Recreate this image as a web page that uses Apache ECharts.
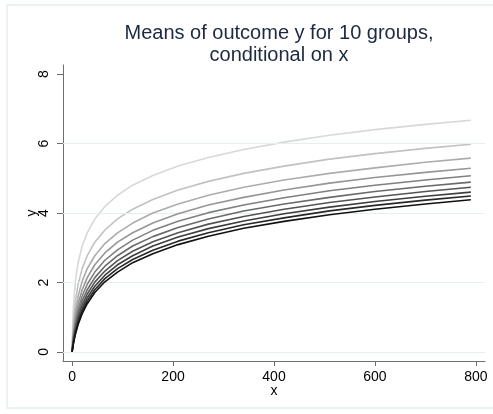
<!DOCTYPE html>
<html>
<head>
<meta charset="utf-8">
<script src="https://cdn.jsdelivr.net/npm/echarts@6/dist/echarts.min.js"></script>
<style>
html,body{margin:0;padding:0;background:#fff;}
#chart{width:493px;height:414px;}
</style>
</head>
<body>
<div id="chart"></div>
<script>
// x positions where values were read
var xValues = [0, 1, 2, 4, 7, 12, 20, 30, 45, 65, 90, 120, 160, 210, 270, 340, 420, 510, 600, 700, 790];
// means of y for the 10 groups (top/lightest to bottom/darkest)
var group1  = [0, 0.69, 1.10, 1.61, 2.08, 2.57, 3.05, 3.43, 3.83, 4.19, 4.51, 4.80, 5.08, 5.35, 5.60, 5.83, 6.04, 6.24, 6.40, 6.55, 6.67];
var group2  = [0, 0.41, 0.69, 1.10, 1.50, 1.95, 2.40, 2.77, 3.16, 3.51, 3.83, 4.11, 4.39, 4.66, 4.91, 5.14, 5.35, 5.55, 5.71, 5.86, 5.98];
var group3  = [0, 0.29, 0.51, 0.85, 1.20, 1.61, 2.04, 2.40, 2.77, 3.12, 3.43, 3.71, 4.00, 4.26, 4.51, 4.74, 4.95, 5.14, 5.30, 5.46, 5.58];
var group4  = [0, 0.22, 0.41, 0.69, 1.01, 1.39, 1.79, 2.14, 2.51, 2.85, 3.16, 3.43, 3.71, 3.98, 4.23, 4.45, 4.66, 4.86, 5.02, 5.17, 5.29];
var group5  = [0, 0.18, 0.34, 0.59, 0.88, 1.22, 1.61, 1.95, 2.30, 2.64, 2.94, 3.22, 3.50, 3.76, 4.01, 4.23, 4.44, 4.64, 4.80, 4.95, 5.07];
var group6  = [0, 0.15, 0.29, 0.51, 0.77, 1.10, 1.47, 1.79, 2.14, 2.47, 2.77, 3.05, 3.32, 3.58, 3.83, 4.06, 4.26, 4.45, 4.62, 4.77, 4.89];
var group7  = [0, 0.13, 0.25, 0.45, 0.69, 1.00, 1.35, 1.67, 2.01, 2.33, 2.63, 2.90, 3.17, 3.43, 3.68, 3.90, 4.11, 4.30, 4.46, 4.62, 4.74];
var group8  = [0, 0.12, 0.22, 0.41, 0.63, 0.92, 1.25, 1.56, 1.89, 2.21, 2.51, 2.77, 3.05, 3.31, 3.55, 3.77, 3.98, 4.17, 4.33, 4.48, 4.60];
var group9  = [0, 0.11, 0.20, 0.37, 0.58, 0.85, 1.17, 1.47, 1.79, 2.11, 2.40, 2.66, 2.93, 3.19, 3.43, 3.66, 3.86, 4.06, 4.22, 4.37, 4.49];
var group10 = [0, 0.10, 0.18, 0.34, 0.53, 0.79, 1.10, 1.39, 1.71, 2.02, 2.30, 2.57, 2.83, 3.09, 3.33, 3.56, 3.76, 3.95, 4.11, 4.26, 4.38];
var groups = [group1, group2, group3, group4, group5, group6, group7, group8, group9, group10];

var xTicks = [0, 200, 400, 600, 800];
var yTicks = [0, 2, 4, 6, 8];
var yGridValues = [0, 2, 4, 6];
var titleText = 'Means of outcome y for 10 groups,\nconditional on x';

var lineColors = ['#d8d8d8','#c2c2c2','#acacac','#969696','#808080','#6a6a6a','#545454','#3e3e3e','#282828','#111111'];

var series = groups.map(function (g, i) {
  return {
    type: 'line',
    data: xValues.map(function (x, j) { return [x, g[j]]; }),
    smooth: false,
    showSymbol: false,
    symbol: 'none',
    z: 3 + i,
    lineStyle: { color: lineColors[i], width: 1.6, join: 'round' },
    silent: true
  };
});
series.push({
  type: 'line',
  data: [],
  silent: true,
  z: 1,
  markLine: {
    silent: true,
    symbol: 'none',
    label: { show: false },
    lineStyle: { color: '#e6eff0', width: 1, type: 'solid' },
    data: yGridValues.map(function (v) { return { yAxis: v }; })
  }
});

var chart = echarts.init(document.getElementById('chart'), null, { renderer: 'canvas' });
chart.setOption({
  animation: false,
  backgroundColor: '#ffffff',
  graphic: [{
    type: 'rect',
    shape: { x: 7, y: 5, width: 490, height: 403 },
    style: { fill: 'none', stroke: '#eaf2f3', lineWidth: 2 },
    silent: true, z: -1
  }],
  title: {
    text: titleText,
    left: 274,
    top: 17,
    textAlign: 'center',
    textStyle: {
      fontFamily: 'Liberation Sans, Arial, sans-serif',
      fontSize: 20,
      fontWeight: 'normal',
      color: '#1c2940',
      lineHeight: 22
    }
  },
  grid: { left: 63, right: 8, top: 65, bottom: 53, containLabel: false },
  xAxis: {
    type: 'value',
    min: -18, max: 818,
    name: 'x',
    nameLocation: 'middle',
    nameGap: 23,
    nameMoveOverlap: false,
    nameTextStyle: { fontFamily: 'Liberation Sans, Arial, sans-serif', fontSize: 14, color: '#000' },
    axisLine: { show: true, onZero: false, lineStyle: { color: '#6e6e6e', width: 1 } },
    axisTick: { show: true, length: 5, customValues: xTicks, lineStyle: { color: '#6e6e6e' } },
    axisLabel: { customValues: xTicks, margin: 9, fontFamily: 'Liberation Sans, Arial, sans-serif', fontSize: 14, color: '#000' },
    splitLine: { show: false }
  },
  yAxis: {
    type: 'value',
    min: -0.26, max: 8.26,
    name: 'y',
    nameLocation: 'middle',
    nameGap: 24,
    nameMoveOverlap: false,
    nameRotate: 90,
    nameTextStyle: { fontFamily: 'Liberation Sans, Arial, sans-serif', fontSize: 14, color: '#000' },
    axisLine: { show: true, onZero: false, lineStyle: { color: '#6e6e6e', width: 1 } },
    axisTick: { show: true, length: 6, customValues: yTicks, lineStyle: { color: '#6e6e6e' } },
    axisLabel: { customValues: yTicks, rotate: 90, margin: 12, fontFamily: 'Liberation Sans, Arial, sans-serif', fontSize: 14, color: '#000' },
    splitLine: { show: false }
  },
  series: series
});
</script>
</body>
</html>
